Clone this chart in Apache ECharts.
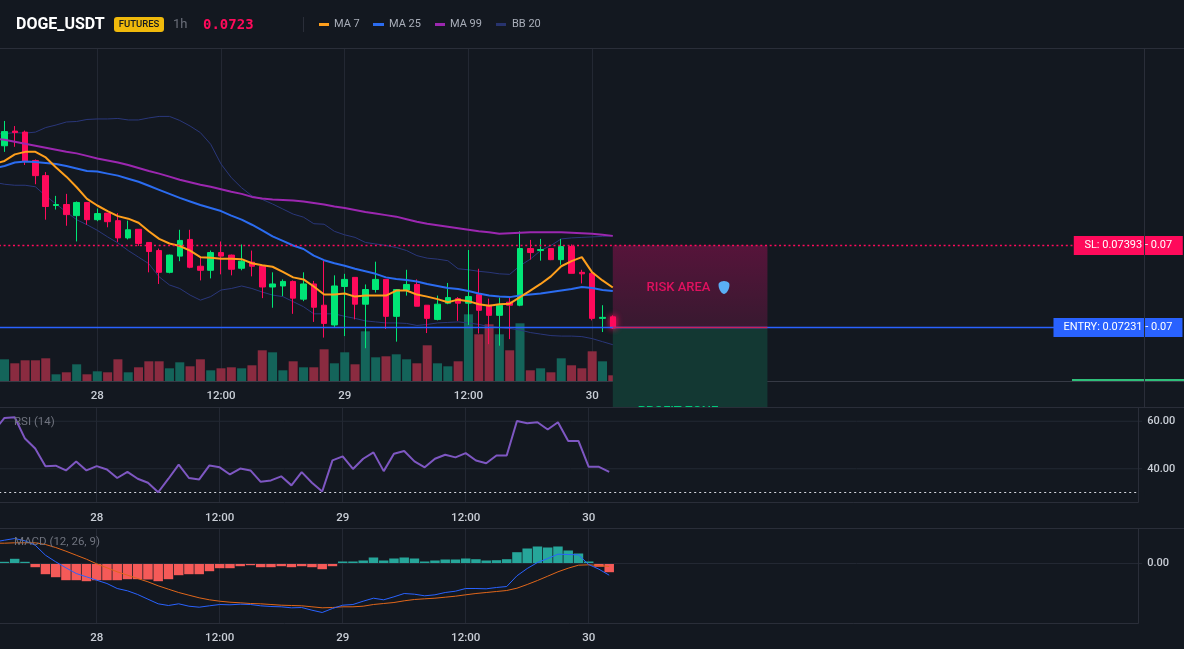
<!DOCTYPE html>
<html>
<head>
<meta charset="utf-8">
<title>DOGE_USDT futures</title>
<style>html,body{margin:0;padding:0;background:#131820}#chart{width:1184px;height:649px}</style>
<script src="https://cdn.jsdelivr.net/npm/echarts@6/dist/echarts.min.js"></script>
</head>
<body>
<div id="chart"></div>
<script>
// Hourly DOGE_USDT bars. The first entry is the bar just left of the visible window.
const opens = [0.07585,
 0.07590,0.07619,0.07617,0.07561,0.07531,0.07472,0.07474,0.07452,0.07478,0.07444,
 0.07457,0.07442,0.07408,0.07425,0.07399,0.07383,0.07340,0.07372,0.07405,0.07352,
 0.07344,0.07379,0.07374,0.07348,0.07360,0.07352,0.07311,0.07313,0.07322,0.07287,
 0.07317,0.07275,0.07236,0.07312,0.07330,0.07277,0.07306,0.07326,0.07253,0.07305,
 0.07316,0.07275,0.07247,0.07279,0.07288,0.07279,0.07296,0.07275,0.07255,0.07281,
 0.07275,0.07387,0.07383,0.07387,0.07365,0.07391,0.07340,0.07338,0.07249,0.07252];
const closes = [0.07590,
 0.07618,0.07616,0.07560,0.07531,0.07470,0.07474,0.07454,0.07478,0.07444,0.07456,
 0.07440,0.07408,0.07424,0.07397,0.07381,0.07340,0.07374,0.07403,0.07350,0.07344,
 0.07379,0.07372,0.07346,0.07362,0.07352,0.07311,0.07317,0.07322,0.07289,0.07317,
 0.07271,0.07239,0.07313,0.07326,0.07277,0.07306,0.07326,0.07253,0.07306,0.07316,
 0.07273,0.07249,0.07277,0.07290,0.07279,0.07292,0.07265,0.07255,0.07275,0.07275,
 0.07387,0.07379,0.07385,0.07365,0.07391,0.07338,0.07337,0.07249,0.07251,0.07230];
const lows = [0.07575,
 0.07578,0.07588,0.07552,0.07514,0.07444,0.07464,0.07432,0.07401,0.07434,0.07441,
 0.07429,0.07400,0.07405,0.07392,0.07340,0.07317,0.07338,0.07362,0.07348,0.07324,
 0.07328,0.07336,0.07334,0.07344,0.07332,0.07289,0.07270,0.07293,0.07258,0.07283,
 0.07242,0.07211,0.07232,0.07214,0.07247,0.07190,0.07300,0.07228,0.07203,0.07294,
 0.07273,0.07220,0.07245,0.07277,0.07244,0.07236,0.07219,0.07198,0.07195,0.07208,
 0.07273,0.07365,0.07363,0.07364,0.07355,0.07338,0.07318,0.07245,0.07222,0.07228];
const highs = [0.07600,
 0.07639,0.07629,0.07620,0.07563,0.07538,0.07491,0.07495,0.07480,0.07479,0.07466,
 0.07457,0.07457,0.07442,0.07425,0.07399,0.07387,0.07375,0.07424,0.07424,0.07369,
 0.07383,0.07401,0.07375,0.07395,0.07383,0.07354,0.07340,0.07326,0.07324,0.07340,
 0.07323,0.07363,0.07334,0.07337,0.07330,0.07316,0.07361,0.07326,0.07306,0.07345,
 0.07326,0.07275,0.07294,0.07319,0.07291,0.07384,0.07347,0.07288,0.07290,0.07291,
 0.07421,0.07404,0.07406,0.07388,0.07406,0.07395,0.07345,0.07343,0.07275,0.07255];
const volumes = [20,
 21.7,17.7,20.7,20.7,22.7,6.7,8.7,16.7,6.7,9.7,
 8.7,21.7,8.7,13.7,19.7,19.7,12.7,18.7,14.7,21.7,
 10.7,12.7,13.7,12.7,15.7,30.7,28.7,10.7,19.7,13.7,
 13.7,31.7,17.7,28.7,16.7,49.7,23.7,24.7,26.7,21.7,
 17.7,35.7,17.7,14.7,19.7,66.7,46.7,56.7,46.7,30.7,
 57.7,10.7,12.7,8.7,22.7,15.7,12.7,29.7,19.7,5.7];

const ma7 = [0.07554,
 0.07560,0.07573,0.07578,0.07578,0.07567,0.07547,0.07529,0.07508,0.07485,0.07472,
 0.07461,0.07451,0.07446,0.07438,0.07421,0.07406,0.07397,0.07392,0.07383,0.07370,
 0.07369,0.07367,0.07367,0.07366,0.07358,0.07354,0.07351,0.07341,0.07330,0.07326,
 0.07312,0.07296,0.07296,0.07298,0.07292,0.07294,0.07294,0.07294,0.07304,0.07304,
 0.07296,0.07292,0.07287,0.07281,0.07286,0.07283,0.07277,0.07274,0.07277,0.07278,
 0.07291,0.07304,0.07317,0.07332,0.07352,0.07362,0.07370,0.07340,0.07324,0.07310];
const ma25 = [0.07546,
 0.07550,0.07557,0.07559,0.07558,0.07556,0.07554,0.07550,0.07545,0.07540,0.07539,
 0.07535,0.07531,0.07525,0.07519,0.07511,0.07503,0.07495,0.07487,0.07480,0.07473,
 0.07467,0.07461,0.07452,0.07444,0.07434,0.07423,0.07411,0.07402,0.07393,0.07386,
 0.07373,0.07364,0.07358,0.07353,0.07347,0.07342,0.07337,0.07330,0.07327,0.07325,
 0.07322,0.07317,0.07313,0.07309,0.07307,0.07303,0.07298,0.07294,0.07292,0.07291,
 0.07294,0.07296,0.07298,0.07301,0.07304,0.07307,0.07311,0.07309,0.07305,0.07303];
const ma99 = [0.07604,
 0.07602,0.07598,0.07594,0.07590,0.07586,0.07582,0.07578,0.07575,0.07570,0.07565,
 0.07561,0.07557,0.07552,0.07546,0.07540,0.07535,0.07529,0.07523,0.07518,0.07513,
 0.07509,0.07504,0.07499,0.07495,0.07489,0.07486,0.07484,0.07483,0.07482,0.07480,
 0.07477,0.07474,0.07470,0.07467,0.07463,0.07459,0.07456,0.07453,0.07450,0.07445,
 0.07440,0.07436,0.07433,0.07430,0.07427,0.07424,0.07421,0.07419,0.07416,0.07417,
 0.07418,0.07419,0.07419,0.07419,0.07419,0.07418,0.07417,0.07416,0.07414,0.07412];
const bbUpper = [0.07613,
 0.07614,0.07616,0.07615,0.07617,0.07626,0.07631,0.07637,0.07638,0.07642,0.07643,
 0.07643,0.07644,0.07641,0.07641,0.07645,0.07648,0.07648,0.07640,0.07629,0.07616,
 0.07593,0.07554,0.07527,0.07507,0.07491,0.07484,0.07475,0.07465,0.07455,0.07449,
 0.07436,0.07435,0.07421,0.07414,0.07409,0.07399,0.07396,0.07393,0.07389,0.07383,
 0.07373,0.07368,0.07366,0.07363,0.07347,0.07345,0.07342,0.07340,0.07337,0.07336,
 0.07353,0.07366,0.07383,0.07393,0.07406,0.07408,0.07409,0.07410,0.07411,0.07412];
const bbLower = [0.07518,
 0.07514,0.07512,0.07512,0.07509,0.07491,0.07475,0.07459,0.07444,0.07434,0.07423,
 0.07410,0.07398,0.07383,0.07370,0.07357,0.07331,0.07315,0.07308,0.07295,0.07285,
 0.07292,0.07305,0.07308,0.07313,0.07308,0.07301,0.07295,0.07292,0.07282,0.07272,
 0.07258,0.07258,0.07258,0.07253,0.07249,0.07244,0.07242,0.07240,0.07240,0.07239,
 0.07235,0.07237,0.07240,0.07241,0.07242,0.07240,0.07237,0.07233,0.07231,0.07229,
 0.07226,0.07221,0.07218,0.07215,0.07214,0.07214,0.07213,0.07209,0.07203,0.07197];

const rsi = [56,
 61.4,61.7,52.7,48.5,41.1,41.3,39.3,43.1,39.3,41.1,
 39.7,36.1,38.7,35.8,34.1,30.1,35.8,41.7,36.1,35.5,
 41.4,40.6,37.6,40.1,39.3,34.5,35.1,36.8,33.0,38.6,
 34.1,30.4,43.5,45.2,39.9,44.2,46.9,39.0,46.3,47.5,
 43.1,40.6,44.2,45.9,44.8,46.6,43.5,42.3,45.6,45.6,
 60.1,59.2,59.6,56.5,59.6,51.7,51.7,40.8,40.8,38.7];
const macdLine = [0.000215,
 0.000233,0.000250,0.000227,0.000183,0.000083,0.000017,-0.000043,-0.000100,-0.000133,-0.000167,
 -0.000200,-0.000250,-0.000273,-0.000310,-0.000357,-0.000403,-0.000420,-0.000403,-0.000427,-0.000437,
 -0.000423,-0.000410,-0.000413,-0.000407,-0.000410,-0.000423,-0.000430,-0.000433,-0.000443,-0.000440,
 -0.000467,-0.000490,-0.000450,-0.000417,-0.000410,-0.000377,-0.000347,-0.000363,-0.000333,-0.000300,
 -0.000307,-0.000323,-0.000313,-0.000290,-0.000277,-0.000250,-0.000250,-0.000253,-0.000240,-0.000230,
 -0.000123,-0.000050,0.000010,0.000050,0.000093,0.000090,0.000087,-0.000010,-0.000057,-0.000117];
const macdSignal = [0.000203,
 0.000203,0.000207,0.000207,0.000207,0.000190,0.000160,0.000123,0.000083,0.000043,-0.000003,
 -0.000043,-0.000083,-0.000117,-0.000150,-0.000183,-0.000223,-0.000257,-0.000290,-0.000317,-0.000343,
 -0.000363,-0.000377,-0.000387,-0.000393,-0.000400,-0.000403,-0.000410,-0.000417,-0.000420,-0.000423,
 -0.000433,-0.000443,-0.000440,-0.000433,-0.000433,-0.000427,-0.000410,-0.000400,-0.000390,-0.000373,
 -0.000360,-0.000353,-0.000347,-0.000337,-0.000327,-0.000313,-0.000300,-0.000290,-0.000280,-0.000270,
 -0.000247,-0.000210,-0.000170,-0.000127,-0.000083,-0.000047,-0.000017,-0.000013,-0.000020,-0.000030];
const macdHist = [0.000012,
 0.000017,0.000047,0.000017,-0.000037,-0.000107,-0.000137,-0.000167,-0.000167,-0.000177,-0.000167,
 -0.000167,-0.000167,-0.000157,-0.000157,-0.000160,-0.000177,-0.000157,-0.000117,-0.000107,-0.000107,
 -0.000077,-0.000047,-0.000047,-0.000027,-0.000017,-0.000037,-0.000037,-0.000027,-0.000037,-0.000027,
 -0.000037,-0.000057,-0.000027,0.000020,0.000020,0.000030,0.000060,0.000030,0.000050,0.000060,
 0.000050,0.000020,0.000030,0.000040,0.000040,0.000050,0.000043,0.000030,0.000033,0.000043,
 0.000113,0.000150,0.000170,0.000160,0.000170,0.000130,0.000100,0.000020,-0.000033,-0.000087];

const tickBars = [10, 22, 34, 46, 58];
const tickLabels = ['28', '12:00', '29', '12:00', '30'];
const slPrice = 0.07393;
const entryPrice = 0.07231;
const lastPrice = 0.0723;
const tagRounded = 0.07;
const rsiTicks = [60, 40];
const rsiFloor = 30;

const slotCount = 113;
const lastSlot = slotCount - 1;
const categories = Array.from({ length: slotCount }, (_, k) => String(k));
const isTick = (k) => tickBars.includes(k);
const tickText = (value) => {
  const at = tickBars.indexOf(Number(value));
  return at < 0 ? '' : tickLabels[at];
};

const BG = '#131820', RULE = '#2a2e39', GRIDLINE = '#232833', AXIS_TEXT = '#c9ced6';
const UP = '#00e676', DOWN = '#ff0a5b';
const FONT = 'Roboto, "Noto Sans", sans-serif';
const PRICE_MIN = 0.070739, PRICE_MAX = 0.077812;

const candleData = opens.map((o, i) => {
  const item = { value: [o, closes[i], lows[i], highs[i]] };
  if (i === opens.length - 1) item.itemStyle = { shadowBlur: 6, shadowColor: DOWN };
  return item;
});
const volumeData = volumes.map((v, i) => ({
  value: v,
  itemStyle: { color: closes[i] >= opens[i] ? '#14645a' : '#8a2b40' }
}));
const histData = macdHist.map((v) => ({
  value: v,
  itemStyle: { color: v >= 0 ? '#26a69a' : '#f55a58' }
}));

const bandAxis = (gridIndex, margin, extra) => Object.assign({
  type: 'category', gridIndex, data: categories, boundaryGap: false,
  axisLine: { show: false }, axisTick: { show: false },
  axisLabel: {
    show: true, interval: (k) => isTick(k), formatter: tickText, margin,
    color: AXIS_TEXT, fontFamily: FONT, fontSize: 11.5, fontWeight: 500
  },
  splitLine: { show: true, interval: (k) => isTick(k), lineStyle: { color: GRIDLINE, width: 1 } }
}, extra);

const overlay = (series) => Object.assign({
  type: 'line', showSymbol: false, symbol: 'none', silent: true, animation: false, connectNulls: false
}, series);
const maLine = (name, data, color, z) => overlay({
  name, data, z, xAxisIndex: 0, yAxisIndex: 0, lineStyle: { color, width: 2 }, itemStyle: { color }
});
const bandLine = (data) => overlay({
  name: 'BB 20', data, z: 3, xAxisIndex: 0, yAxisIndex: 0,
  lineStyle: { color: '#2a377a', width: 1 }, itemStyle: { color: '#2a377a' }
});
// Horizontal level drawn between two slots of a pane's axis.
const levelSeries = (name, value, paneIndex, z, lineStyle, from = 0, to = lastSlot, extra = {}) => overlay(Object.assign({
  name, z, xAxisIndex: paneIndex, yAxisIndex: paneIndex, connectNulls: true,
  data: categories.map((_, k) => (k === from || k === to ? value : null)),
  lineStyle, itemStyle: { color: lineStyle.color }
}, extra));

const option = {
  animation: false,
  backgroundColor: BG,
  grid: [
    { left: -5.81, top: 49, width: 1154.72, height: 358, outerBoundsMode: 'none' },
    { left: -5.81, top: 49, width: 1154.72, height: 332, outerBoundsMode: 'none' },
    { left: -5.8, top: 407, width: 1148, height: 95, outerBoundsMode: 'none' },
    { left: -5.8, top: 528.5, width: 1148, height: 95, outerBoundsMode: 'none' }
  ],
  xAxis: [
    bandAxis(0, 8, { show: false }),
    bandAxis(1, 9, {}),
    bandAxis(2, 10, { z: 10 }),
    bandAxis(3, 9, { z: 10 })
  ],
  yAxis: [
    { type: 'value', gridIndex: 0, min: PRICE_MIN, max: PRICE_MAX, show: false, scale: true, splitLine: { show: false } },
    { type: 'value', gridIndex: 1, min: 0, max: 332, show: false, splitLine: { show: false } },
    {
      type: 'value', gridIndex: 2, position: 'right', min: 26, max: 66, interval: 2, z: 10,
      axisLine: { show: false }, axisTick: { show: false }, splitLine: { show: false },
      axisLabel: {
        margin: 5, color: AXIS_TEXT, fontFamily: FONT, fontSize: 11, fontWeight: 500,
        formatter: (v) => (rsiTicks.includes(v) ? v.toFixed(2) : '')
      }
    },
    {
      type: 'value', gridIndex: 3, position: 'right', min: -0.0006, max: 0.00035, interval: 0.0002, z: 10,
      axisLine: { show: false }, axisTick: { show: false }, splitLine: { show: false },
      axisLabel: {
        margin: 5, color: AXIS_TEXT, fontFamily: FONT, fontSize: 11, fontWeight: 500,
        formatter: (v) => (Math.abs(v) < 1e-9 ? '0.00' : '')
      }
    }
  ],
  series: [
    {
      name: 'Volume', type: 'bar', xAxisIndex: 1, yAxisIndex: 1, z: 1, barWidth: 9,
      data: volumeData, silent: true, animation: false
    },
    // Trade plan zones
    overlay({
      name: 'Zones', xAxisIndex: 0, yAxisIndex: 0, z: 2, data: [],
      markArea: {
        silent: true, z: 2,
        data: [
          [{ coord: [60, slPrice], itemStyle: { color: {
              type: 'linear', x: 0, y: 0, x2: 0, y2: 1,
              colorStops: [{ offset: 0, color: '#56143a' }, { offset: 1, color: '#381930' }] } } },
           { coord: [75, entryPrice] }],
          [{ coord: [60, entryPrice], itemStyle: { color: '#133833' } },
           { coord: [75, PRICE_MIN] }]
        ]
      }
    }),
    bandLine(bbUpper),
    bandLine(bbLower),
    {
      name: 'DOGE_USDT', type: 'candlestick', xAxisIndex: 0, yAxisIndex: 0, z: 4, barWidth: 6,
      data: candleData, silent: true, animation: false, clip: false,
      itemStyle: { color: UP, color0: DOWN, borderColor: UP, borderColor0: DOWN, borderWidth: 1 }
    },
    maLine('MA 99', ma99, '#9c27b0', 5),
    maLine('MA 25', ma25, '#2b6cf0', 5),
    maLine('MA 7', ma7, '#ff9f1c', 5),
    // Stop and entry levels; the tags on the right carry their prices
    levelSeries('Stop', slPrice, 0, 6, { color: DOWN, type: [2, 2.7], width: 1.4 }, 0, lastSlot, {
      markPoint: {
        silent: true, symbol: 'rect', animation: false, z: 7,
        label: { show: true, position: 'inside', color: '#ffffff', fontFamily: FONT, fontSize: 11 },
        data: [
          {
            coord: [110, slPrice], symbolSize: [109, 19], itemStyle: { color: DOWN },
            label: { formatter: `SL: ${slPrice.toFixed(5)} - ${tagRounded.toFixed(2)}` }
          },
          {
            coord: [109, entryPrice], symbolSize: [129, 19], itemStyle: { color: '#2962ff' },
            label: { formatter: `ENTRY: ${entryPrice.toFixed(5)} - ${tagRounded.toFixed(2)}` }
          }
        ]
      }
    }),
    levelSeries('Entry', entryPrice, 0, 6, { color: '#2962ff', width: 1.4 }),
    levelSeries('Entry edge', entryPrice, 0, 6, { color: '#c8215f', width: 1.5 }, 60, 75),

    ...rsiTicks.map((v) => levelSeries(`RSI ${v}`, v, 2, 10, { color: GRIDLINE, width: 1 })),
    levelSeries('RSI floor', rsiFloor, 2, 10, { color: '#d5d8de', type: [2, 3], width: 1 }),
    overlay({
      name: 'RSI (14)', xAxisIndex: 2, yAxisIndex: 2, z: 11, data: rsi,
      lineStyle: { color: '#7e57c2', width: 2 }, itemStyle: { color: '#7e57c2' }
    }),

    levelSeries('MACD zero', 0, 3, 10, { color: GRIDLINE, width: 1 }),
    {
      name: 'Histogram', type: 'bar', xAxisIndex: 3, yAxisIndex: 3, z: 10, barWidth: 9.5,
      data: histData, silent: true, animation: false
    },
    overlay({
      name: 'Signal', xAxisIndex: 3, yAxisIndex: 3, z: 11, data: macdSignal,
      lineStyle: { color: '#e0661a', width: 1 }, itemStyle: { color: '#e0661a' }
    }),
    overlay({
      name: 'MACD (12, 26, 9)', xAxisIndex: 3, yAxisIndex: 3, z: 11, data: macdLine,
      lineStyle: { color: '#2962ff', width: 1 }, itemStyle: { color: '#2962ff' }
    })
  ],
  graphic: { elements: [
    // Rules that frame the panes
    { type: 'line', z: 0, silent: true, shape: { x1: 0, y1: 48.5, x2: 1184, y2: 48.5 }, style: { stroke: RULE, lineWidth: 1 } },
    { type: 'line', z: 0, silent: true, shape: { x1: 0, y1: 381.5, x2: 1184, y2: 381.5 }, style: { stroke: '#363a45', lineWidth: 1 } },

    // Zone captions
    { type: 'text', z: 6, silent: true, x: 678.5, y: 287.5, style: { text: 'RISK AREA', fill: '#e0115f', font: `500 13px ${FONT}`, textAlign: 'center', textVerticalAlign: 'middle' } },
    { type: 'polygon', z: 6, silent: true, shape: { smooth: 0.35, points: [[719, 283], [724, 281], [729, 283], [729, 288], [727, 292], [724, 294], [721, 292], [719, 288]] }, style: { fill: '#5aaef5' } },
    { type: 'text', z: 6, silent: true, x: 678, y: 412, style: { text: 'PROFIT ZONE', fill: '#00c97a', font: `500 13px ${FONT}`, textAlign: 'center', textVerticalAlign: 'middle' } },
    { type: 'rect', z: 6, silent: true, shape: { x: 1072, y: 379, width: 112, height: 2 }, style: { fill: '#2fbf7a' } },

    // Lower panes sit above the main pane
    { type: 'rect', z: 7, silent: true, shape: { x: 0, y: 407, width: 1184, height: 242 }, style: { fill: BG } },
    { type: 'line', z: 8, silent: true, shape: { x1: 1144.5, y1: 49, x2: 1144.5, y2: 407 }, style: { stroke: RULE, lineWidth: 1 } },

    { type: 'line', z: 12, silent: true, shape: { x1: 0, y1: 407.5, x2: 1184, y2: 407.5 }, style: { stroke: RULE, lineWidth: 1 } },
    { type: 'line', z: 12, silent: true, shape: { x1: 0, y1: 528.5, x2: 1184, y2: 528.5 }, style: { stroke: RULE, lineWidth: 1 } },
    { type: 'rect', z: 12, silent: true, shape: { x: 1138.5, y: 489, width: 6, height: 6 }, style: { fill: BG } },
    { type: 'polyline', z: 12, silent: true, shape: { points: [[1138.5, 408], [1138.5, 502.5], [0, 502.5]] }, style: { stroke: RULE, lineWidth: 1, fill: null } },
    { type: 'polyline', z: 12, silent: true, shape: { points: [[1138.5, 529], [1138.5, 623.5], [0, 623.5]] }, style: { stroke: RULE, lineWidth: 1, fill: null } },
    { type: 'text', z: 12, silent: true, x: 14, y: 422, style: { text: 'RSI (14)', fill: '#6f737e', font: `11.5px ${FONT}`, textVerticalAlign: 'middle' } },
    { type: 'text', z: 12, silent: true, x: 14, y: 542, style: { text: 'MACD (12, 26, 9)', fill: '#6f737e', font: `11.5px ${FONT}`, textVerticalAlign: 'middle' } },

    // Header
    { type: 'text', z: 12, silent: true, x: 16, y: 25, style: { text: 'DOGE_USDT', fill: '#ffffff', font: `700 16px ${FONT}`, textVerticalAlign: 'middle' } },
    { type: 'rect', z: 12, silent: true, shape: { x: 114, y: 17, width: 50, height: 15, r: 3 }, style: { fill: '#f0b90b' } },
    { type: 'text', z: 12, silent: true, x: 139, y: 25, style: { text: 'FUTURES', fill: '#131820', font: `500 9.5px ${FONT}`, textAlign: 'center', textVerticalAlign: 'middle' } },
    { type: 'text', z: 12, silent: true, x: 173, y: 25, style: { text: '1h', fill: '#6b6f7a', font: `13px ${FONT}`, textVerticalAlign: 'middle' } },
    { type: 'text', z: 12, silent: true, x: 203, y: 25, style: { text: lastPrice.toFixed(4), fill: DOWN, font: '700 14px "DejaVu Sans Mono", monospace', textVerticalAlign: 'middle' } },
    { type: 'line', z: 12, silent: true, shape: { x1: 303.5, y1: 17, x2: 303.5, y2: 32 }, style: { stroke: RULE, lineWidth: 1 } },

    { type: 'rect', z: 12, silent: true, shape: { x: 319, y: 23, width: 10, height: 3 }, style: { fill: '#ff9f1c' } },
    { type: 'text', z: 12, silent: true, x: 334, y: 24, style: { text: 'MA 7', fill: '#a9aeb9', font: `11px ${FONT}`, textVerticalAlign: 'middle' } },
    { type: 'rect', z: 12, silent: true, shape: { x: 373, y: 23, width: 11, height: 3 }, style: { fill: '#2b6cf0' } },
    { type: 'text', z: 12, silent: true, x: 389, y: 24, style: { text: 'MA 25', fill: '#a9aeb9', font: `11px ${FONT}`, textVerticalAlign: 'middle' } },
    { type: 'rect', z: 12, silent: true, shape: { x: 435, y: 23, width: 10, height: 3 }, style: { fill: '#9c27b0' } },
    { type: 'text', z: 12, silent: true, x: 450, y: 24, style: { text: 'MA 99', fill: '#a9aeb9', font: `11px ${FONT}`, textVerticalAlign: 'middle' } },
    { type: 'rect', z: 12, silent: true, shape: { x: 496, y: 23, width: 10, height: 3 }, style: { fill: '#27336e' } },
    { type: 'text', z: 12, silent: true, x: 512, y: 24, style: { text: 'BB 20', fill: '#a9aeb9', font: `11px ${FONT}`, textVerticalAlign: 'middle' } }
  ] }
};

const chart = echarts.init(document.getElementById('chart'), null, { renderer: 'canvas' });
chart.setOption(option);
</script>
</body>
</html>
